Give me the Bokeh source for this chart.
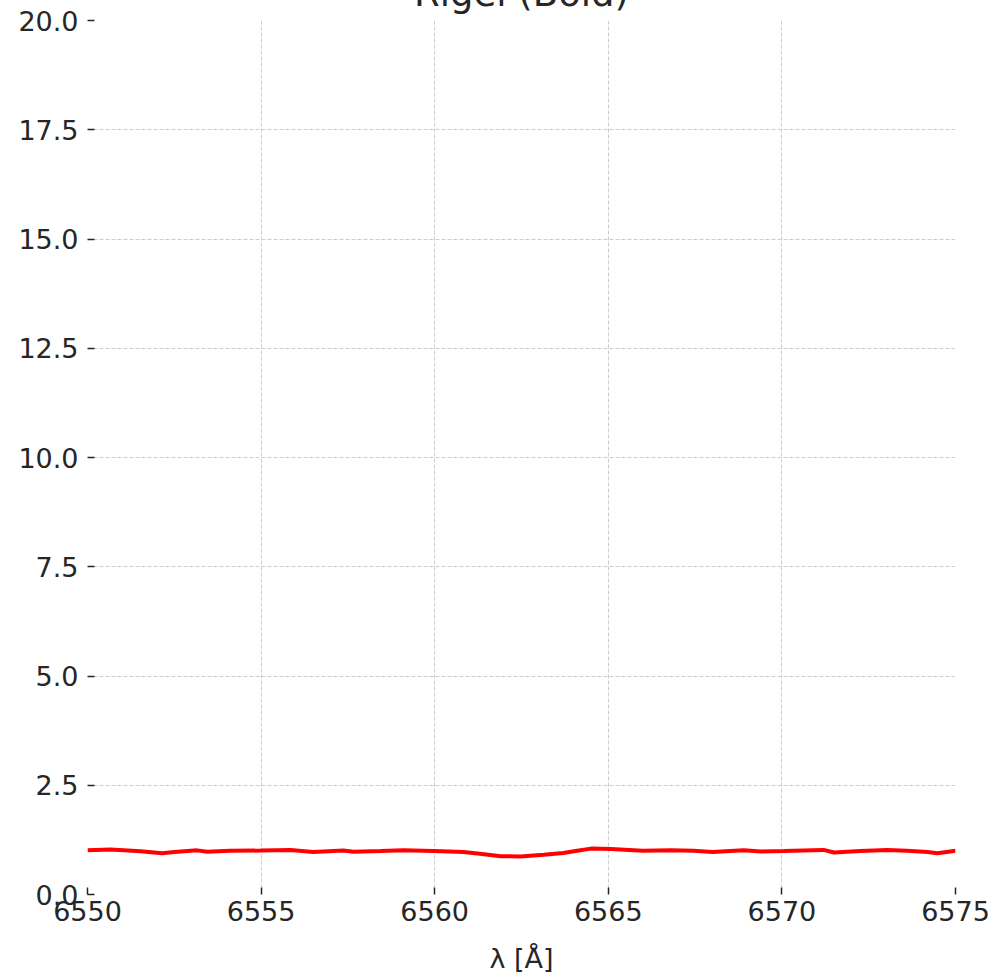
from bokeh.plotting import figure
from bokeh.models import FixedTicker, PrintfTickFormatter, Range1d
from bokeh.embed import file_html
from bokeh.resources import INLINE

title_text = "Rigel (Bold)"
x_label = "λ [Å]"

wavelength = [6550.0, 6550.66, 6551.53, 6552.15, 6552.5, 6553.16, 6553.45, 6554.1,
              6554.98, 6555.85, 6556.5, 6557.37, 6557.66, 6558.44, 6559.1, 6559.97,
              6560.83, 6561.3, 6561.9, 6562.47, 6563.14, 6563.7, 6564.1, 6564.5,
              6565.07, 6566.0, 6566.8, 6567.45, 6568.0, 6568.9, 6569.4, 6570.05,
              6571.2, 6571.5, 6572.26, 6573.04, 6573.6, 6574.2, 6574.48, 6575.0]
flux = [1.01, 1.03, 0.99, 0.945, 0.975, 1.01, 0.98, 1.0,
        1.005, 1.02, 0.975, 1.005, 0.98, 0.995, 1.01, 0.995,
        0.97, 0.93, 0.875, 0.87, 0.91, 0.95, 1.0, 1.05,
        1.04, 1.0, 1.01, 1.0, 0.97, 1.01, 0.985, 0.995,
        1.02, 0.96, 0.995, 1.02, 1.0, 0.97, 0.945, 1.0]

x_ticks = [6550, 6555, 6560, 6565, 6570, 6575]
y_ticks = [0.0, 2.5, 5.0, 7.5, 10.0, 12.5, 15.0, 17.5, 20.0]

FONT = "DejaVu Sans"
TXT = "#262626"

p = figure(width=997, height=976, output_backend="svg", toolbar_location=None,
           x_range=Range1d(6550, 6575), y_range=Range1d(0, 20),
           min_border_left=87, min_border_right=42, min_border_top=20, min_border_bottom=81)
p.outline_line_color = None
p.background_fill_color = "white"
p.border_fill_color = "white"

p.title.text = title_text
p.title.align = "center"
p.title.vertical_align = "top"
p.title.text_font = FONT
p.title.text_font_size = "37px"
p.title.text_font_style = "normal"
p.title.text_color = TXT
p.title.standoff = -98

p.line(wavelength, flux, line_color="red", line_width=4)

for ax in (p.xaxis[0], p.yaxis[0]):
    ax.axis_line_color = None
    ax.major_tick_in = 7
    ax.major_tick_out = 0
    ax.minor_tick_line_color = None
    ax.major_tick_line_color = TXT
    ax.major_tick_line_width = 1.5
    ax.major_label_text_font = FONT
    ax.major_label_text_font_size = "27px"
    ax.major_label_text_color = TXT

p.xaxis.ticker = FixedTicker(ticks=x_ticks)
p.xaxis.formatter = PrintfTickFormatter(format="%d")
p.xaxis.major_label_standoff = 6
p.xaxis.axis_label = x_label
p.xaxis.axis_label_text_font = FONT
p.xaxis.axis_label_text_font_size = "27px"
p.xaxis.axis_label_text_font_style = "normal"
p.xaxis.axis_label_text_color = TXT
p.xaxis.axis_label_standoff = 19

p.yaxis.ticker = FixedTicker(ticks=y_ticks)
p.yaxis.formatter = PrintfTickFormatter(format="%.1f")
p.yaxis.major_label_standoff = 9

for g in (p.xgrid[0], p.ygrid[0]):
    g.grid_line_color = "#cccccc"
    g.grid_line_dash = "4 2"
    g.grid_line_width = 1

open("out.html", "w").write(file_html(p, INLINE))
